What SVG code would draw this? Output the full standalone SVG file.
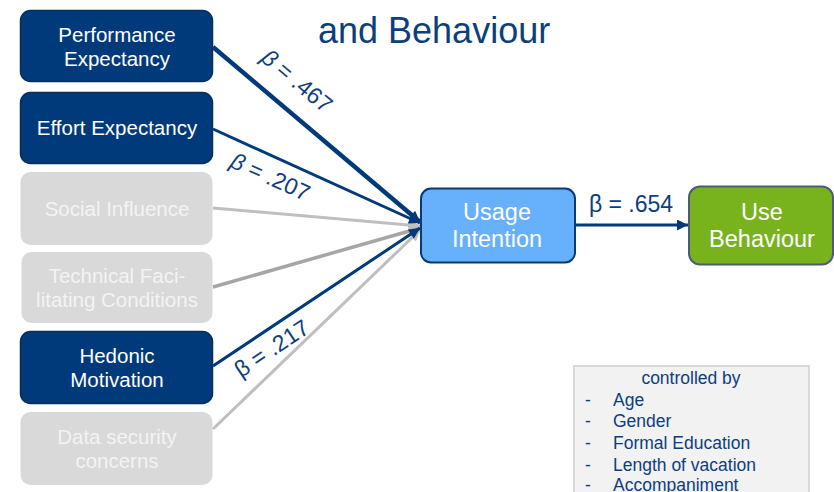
<svg xmlns="http://www.w3.org/2000/svg" width="834" height="492" viewBox="0 0 834 492">
<style>
text{font-family:"Liberation Sans",Arial,sans-serif}
.dark rect{fill:#013a7b;stroke:#062f5e;stroke-width:1.5}
.light rect{fill:#d9d9d9;stroke:none}
.nt{fill:#ffffff;font-size:20.5px;text-anchor:middle}
.lt{fill:#f3f3f3;font-size:20.5px;text-anchor:middle}
.bt{fill:#ffffff;font-size:23.5px;text-anchor:middle}
.lbl{fill:#0d3e7e;font-size:23px}
.ctl{fill:#0d3e7e;font-size:17.5px}
</style>
<defs>
<marker id="aN" viewBox="0 0 10 10" refX="10" refY="5" markerWidth="14" markerHeight="11" markerUnits="userSpaceOnUse" orient="auto"><path d="M0,0 L10,5 L0,10 z" fill="#013a7b"/></marker>
<marker id="aG" viewBox="0 0 10 10" refX="10" refY="5" markerWidth="14" markerHeight="11" markerUnits="userSpaceOnUse" orient="auto"><path d="M0,0 L10,5 L0,10 z" fill="#bfbfbf"/></marker>
<marker id="aD" viewBox="0 0 10 10" refX="10" refY="5" markerWidth="14" markerHeight="11" markerUnits="userSpaceOnUse" orient="auto"><path d="M0,0 L10,5 L0,10 z" fill="#a6a6a6"/></marker>
</defs>
<text x="318" y="43" fill="#0d3e7e" font-size="36">and Behaviour</text>
<g id="connectors">
<line x1="213" y1="429" x2="420" y2="230" stroke="#bfbfbf" stroke-width="3" marker-end="url(#aG)"/>
<line x1="213" y1="287" x2="420" y2="228" stroke="#a6a6a6" stroke-width="3.5" marker-end="url(#aD)"/>
<line x1="213" y1="208" x2="420" y2="226" stroke="#bfbfbf" stroke-width="3" marker-end="url(#aG)"/>
<line x1="213" y1="366" x2="420" y2="228" stroke="#013a7b" stroke-width="3" marker-end="url(#aN)"/>
<line x1="213" y1="129" x2="420" y2="223" stroke="#013a7b" stroke-width="3" marker-end="url(#aN)"/>
<line x1="213" y1="47" x2="420" y2="222" stroke="#013a7b" stroke-width="4.5" marker-end="url(#aN)"/>
<line x1="575" y1="225" x2="688" y2="225" stroke="#013a7b" stroke-width="3" marker-end="url(#aN)"/>
<text class="lbl" transform="translate(292,87) rotate(40)" text-anchor="middle"><tspan font-style="italic">β</tspan> = .467</text>
<text class="lbl" transform="translate(267,184) rotate(24.5)" text-anchor="middle"><tspan font-style="italic">β</tspan> = .207</text>
<text class="lbl" transform="translate(276,355) rotate(-33.7)" text-anchor="middle">β = .217</text>
<text class="lbl" x="631" y="212" text-anchor="middle" font-size="24">β = .654</text>
</g>
<g id="pe" class="dark"><rect x="20.5" y="10.5" width="192" height="71" rx="10"/><text class="nt" x="117" y="42">Performance</text><text class="nt" x="117" y="66">Expectancy</text></g>
<g id="ee" class="dark"><rect x="20.5" y="92.5" width="192" height="71" rx="10"/><text class="nt" x="117" y="135">Effort Expectancy</text></g>
<g id="si" class="light"><rect x="20.5" y="172" width="192" height="73" rx="10"/><text class="lt" x="117" y="216">Social Influence</text></g>
<g id="tfc" class="light"><rect x="21.5" y="252" width="191" height="71" rx="10"/><text class="lt" x="117" y="283">Technical Faci-</text><text class="lt" x="117" y="307">litating Conditions</text></g>
<g id="hm" class="dark"><rect x="20.5" y="331.5" width="192" height="72" rx="10"/><text class="nt" x="117" y="363">Hedonic</text><text class="nt" x="117" y="387">Motivation</text></g>
<g id="dsc" class="light"><rect x="20.5" y="412" width="192" height="73" rx="10"/><text class="lt" x="117" y="444">Data security</text><text class="lt" x="117" y="468">concerns</text></g>
<g id="ui"><rect x="421" y="188.5" width="154" height="74" rx="10" fill="#66b0fc" stroke="#0a3a74" stroke-width="2"/><text class="bt" x="497" y="220">Usage</text><text class="bt" x="497" y="247">Intention</text></g>
<g id="ub"><rect x="689" y="186.5" width="144" height="78" rx="11" fill="#78b31e" stroke="#4d5b78" stroke-width="2"/><text class="bt" x="762" y="220">Use</text><text class="bt" x="762" y="247">Behaviour</text></g>
<g id="controls">
<rect x="574" y="366" width="235" height="130" fill="#f2f2f2" stroke="#d9d9d9" stroke-width="2"/>
<text class="ctl" x="691" y="384" text-anchor="middle">controlled by</text>
<text class="ctl" x="585" y="406">-</text><text class="ctl" x="613" y="406">Age</text>
<text class="ctl" x="585" y="427">-</text><text class="ctl" x="613" y="427">Gender</text>
<text class="ctl" x="585" y="449">-</text><text class="ctl" x="613" y="449">Formal Education</text>
<text class="ctl" x="585" y="471">-</text><text class="ctl" x="613" y="471">Length of vacation</text>
<text class="ctl" x="585" y="491">-</text><text class="ctl" x="613" y="491">Accompaniment</text>
</g>
</svg>
